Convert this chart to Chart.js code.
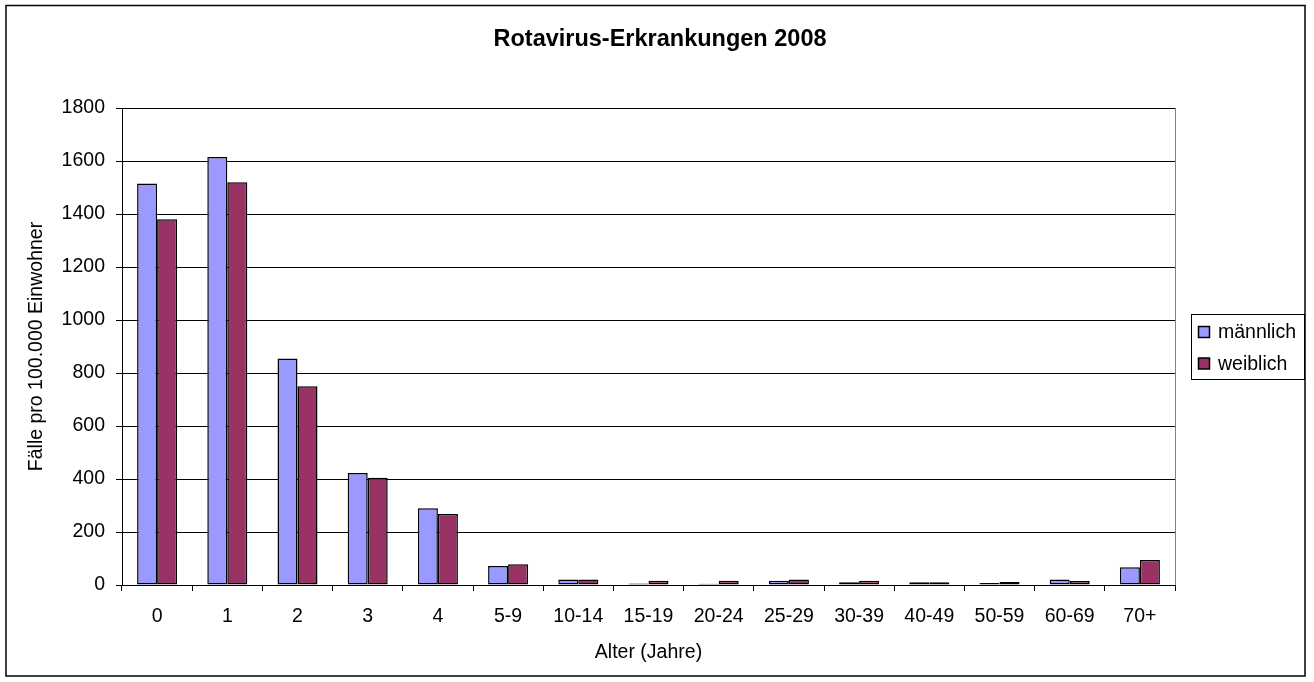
<!DOCTYPE html>
<html>
<head>
<meta charset="utf-8">
<script src="https://cdn.jsdelivr.net/npm/chart.js@4"></script>
<style>
  html, body { margin: 0; padding: 0; background: #fff; }
  #wrap { width: 1314px; height: 682px; }
</style>
</head>
<body>
<div id="wrap"><canvas id="chart" width="1314" height="682"></canvas></div>
<script>
// Altersgruppen und Inzidenz pro 100.000 Einwohner
const ageGroups = ['0', '1', '2', '3', '4', '5-9', '10-14', '15-19', '20-24', '25-29', '30-39', '40-49', '50-59', '60-69', '70+'];
const maleValues = [1515, 1615, 855, 423, 290, 72, 21, 6, 5, 16, 10, 10, 8, 21, 67];
const femaleValues = [1380, 1520, 750, 405, 268, 78, 21, 16, 16, 21, 16, 10, 11, 15, 94];
const yTicks = [0, 200, 400, 600, 800, 1000, 1200, 1400, 1600, 1800];

const chartTitle = 'Rotavirus-Erkrankungen 2008';
const FONT = "Arial, 'Liberation Sans', sans-serif";

// frame round the whole chart, title, grey plot area border
const framePlugin = {
  id: 'frame',
  beforeDraw(chart) {
    const ctx = chart.ctx;
    ctx.save();
    ctx.fillStyle = '#fff';
    ctx.fillRect(0, 0, chart.width, chart.height);
    ctx.strokeStyle = '#000';
    ctx.lineWidth = 1.5;
    ctx.strokeRect(6, 5.5, 1299, 670.5);
    ctx.fillStyle = '#000';
    ctx.font = 'bold 23.5px ' + FONT;
    ctx.textAlign = 'center';
    ctx.textBaseline = 'alphabetic';
    ctx.fillText(chartTitle, 660, 46);
    ctx.restore();
  },
  beforeDatasetsDraw(chart) {
    const { top, right, bottom } = chart.chartArea;
    const ctx = chart.ctx;
    ctx.save();
    ctx.strokeStyle = '#808080';
    ctx.lineWidth = 1;
    ctx.beginPath();
    ctx.moveTo(Math.round(right) + 0.5, top);
    ctx.lineTo(Math.round(right) + 0.5, bottom);
    ctx.stroke();
    ctx.restore();
  }
};

// Excel style legend box on the right
const boxLegend = {
  id: 'boxLegend',
  afterDraw(chart) {
    const ctx = chart.ctx;
    const x = 1191, y = 314, w = 113, h = 65;
    ctx.save();
    ctx.strokeStyle = '#000';
    ctx.lineWidth = 1;
    ctx.strokeRect(x + 0.5, y + 0.5, w, h);
    ctx.font = '19.5px ' + FONT;
    ctx.textBaseline = 'middle';
    chart.data.datasets.forEach((ds, i) => {
      const cy = 332 + i * 31.5;
      ctx.fillStyle = ds.backgroundColor;
      ctx.fillRect(x + 7.5, cy - 5.5, 11, 11);
      ctx.strokeStyle = '#000';
      ctx.lineWidth = 1.5;
      ctx.strokeRect(x + 7.5, cy - 5.5, 11, 11);
      ctx.fillStyle = '#000';
      ctx.fillText(ds.label, x + 27, cy + 1);
    });
    ctx.restore();
  }
};

new Chart(document.getElementById('chart'), {
  type: 'bar',
  data: {
    labels: ageGroups,
    datasets: [
      {
        label: 'männlich',
        data: maleValues,
        backgroundColor: '#9999FF',
        borderColor: '#000',
        borderWidth: 1.5,
        borderSkipped: false,
        categoryPercentage: 0.57,
        barPercentage: 1
      },
      {
        label: 'weiblich',
        data: femaleValues,
        backgroundColor: '#993366',
        borderColor: '#000',
        borderWidth: 1.5,
        borderSkipped: false,
        categoryPercentage: 0.57,
        barPercentage: 1
      }
    ]
  },
  options: {
    responsive: false,
    animation: false,
    devicePixelRatio: 1,
    layout: { padding: { top: 108, left: 6, right: 139, bottom: 6 } },
    plugins: {
      legend: { display: false },
      tooltip: { enabled: false },
      title: { display: false }
    },
    scales: {
      x: {
        afterFit(scale) { scale.height = 91; },
        grid: {
          display: true,
          offset: true,
          drawOnChartArea: false,
          drawTicks: true,
          tickLength: 6,
          color: '#000'
        },
        border: { display: true, color: '#000', width: 1 },
        ticks: {
          color: '#000',
          padding: 14,
          maxRotation: 0,
          autoSkip: false,
          font: { family: FONT, size: 19.5 }
        },
        title: {
          display: true,
          text: 'Alter (Jahre)',
          color: '#000',
          font: { family: FONT, size: 19.5, lineHeight: 1.2 },
          padding: { top: 0, bottom: 11.8 }
        }
      },
      y: {
        min: 0,
        max: 1800,
        afterFit(scale) { scale.width = 116; },
        afterBuildTicks(scale) { scale.ticks = yTicks.map(v => ({ value: v })); },
        grid: {
          color: '#000',
          tickLength: 6,
          drawTicks: true
        },
        border: { display: true, color: '#000', width: 1 },
        ticks: {
          color: '#000',
          padding: 11,
          font: { family: FONT, size: 19.5 },
          callback: v => String(v)
        },
        title: {
          display: true,
          text: 'Fälle pro 100.000 Einwohner',
          color: '#000',
          font: { family: FONT, size: 19.5, lineHeight: 1.2 },
          padding: { top: 19, bottom: 0 }
        }
      }
    }
  },
  plugins: [framePlugin, boxLegend]
});
</script>
</body>
</html>
